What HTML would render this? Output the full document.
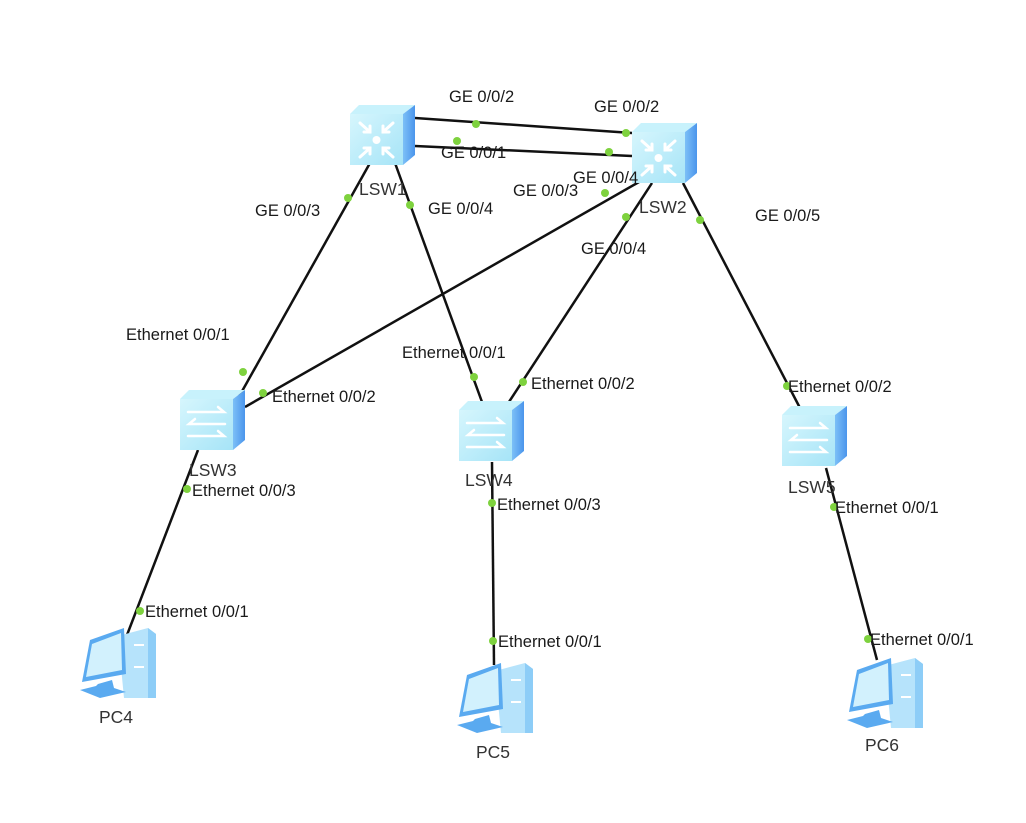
<!DOCTYPE html>
<html><head><meta charset="utf-8"><style>
html,body{margin:0;padding:0;background:#fff;}
svg{display:block;}
text{font-family:"Liberation Sans",sans-serif;font-size:16.5px;fill:#1a1a1a;}
.n{font-size:17.5px;fill:#333;}
</style></head><body>
<svg width="1026" height="823" viewBox="0 0 1026 823" xmlns="http://www.w3.org/2000/svg">
<defs>
<linearGradient id="fg" x1="0" y1="0" x2="1" y2="1"><stop offset="0" stop-color="#d6f6fd"/><stop offset="1" stop-color="#a6e4f7"/></linearGradient>
<linearGradient id="sg" x1="0" y1="0" x2="1" y2="0"><stop offset="0" stop-color="#7cc0f7"/><stop offset="1" stop-color="#4b95ec"/></linearGradient>
<g id="sw">
<polygon points="0,9 9,0 65,0 53,9" fill="#c8f2fc"/>
<polygon points="53,9 65,0 65,50 53,60" fill="url(#sg)"/>
<rect x="0" y="9" width="53" height="51" fill="url(#fg)"/>
</g>
<g id="l3">
<use href="#sw"/>
<g stroke="#fff" stroke-width="3" fill="none" stroke-linecap="round">
<path d="M10,18 L20,27 M20,21 L20,27 L14,27"/>
<path d="M43,18 L33,27 M33,21 L33,27 L39,27"/>
<path d="M10,52 L20,43 M20,49 L20,43 L14,43"/>
<path d="M43,52 L33,43 M33,49 L33,43 L39,43"/>
</g>
<circle cx="26.5" cy="35" r="4" fill="#fff"/>
</g>
<g id="l2">
<use href="#sw"/>
<g stroke="#fff" stroke-width="2.5" fill="none" stroke-linecap="round">
<path d="M8,22 L44,22 L38,17"/>
<path d="M45,34 L9,34 L15,29"/>
<path d="M8,46 L44,46 L38,41"/>
</g>
</g>
<g id="pc">
<polygon points="40,10 70,2 78,8 78,72 46,72" fill="#b6e3fb"/>
<polygon points="70,2 78,8 78,72 70,72" fill="#8dcdf7"/>
<polygon points="12,14 46,2 48,48 4,56" fill="#5aaaf0"/>
<polygon points="14,18 43,7 44,44 8,51" fill="#d2f1fd"/>
<polygon points="20,58 34,54 36,62 48,66 22,72 2,64 18,60" fill="#5aaaf0"/>
<rect x="56" y="18" width="10" height="2" fill="#fff"/>
<rect x="56" y="40" width="10" height="2" fill="#fff"/>
</g>
</defs>

<g stroke="#111" stroke-width="2.5" fill="none">
<line x1="415" y1="118" x2="632" y2="133"/>
<line x1="415" y1="146" x2="632" y2="156"/>
<line x1="370" y1="163" x2="236" y2="402"/>
<line x1="395" y1="163" x2="482" y2="402"/>
<line x1="646" y1="178" x2="245" y2="407"/>
<line x1="652" y1="183" x2="507" y2="405"/>
<line x1="683" y1="183" x2="800" y2="408"/>
<line x1="198" y1="450" x2="127" y2="635"/>
<line x1="492" y1="462" x2="494" y2="665"/>
<line x1="826" y1="468" x2="877" y2="660"/>
</g>

<use href="#l3" x="350" y="105"/>
<use href="#l3" x="632" y="123"/>
<use href="#l2" x="180" y="390"/>
<use href="#l2" x="459" y="401"/>
<use href="#l2" x="782" y="406"/>
<use href="#pc" x="78" y="626"/>
<use href="#pc" x="455" y="661"/>
<use href="#pc" x="845" y="656"/>

<g fill="#7ed23e">
<circle cx="476" cy="124" r="4"/><circle cx="626" cy="133" r="4"/>
<circle cx="457" cy="141" r="4"/><circle cx="609" cy="152" r="4"/>
<circle cx="348" cy="198" r="4"/><circle cx="243" cy="372" r="4"/>
<circle cx="410" cy="205" r="4"/><circle cx="474" cy="377" r="4"/>
<circle cx="605" cy="193" r="4"/><circle cx="263" cy="393" r="4"/>
<circle cx="626" cy="217" r="4"/><circle cx="523" cy="382" r="4"/>
<circle cx="700" cy="220" r="4"/><circle cx="787" cy="386" r="4"/>
<circle cx="187" cy="489" r="4"/><circle cx="140" cy="611" r="4"/>
<circle cx="492" cy="503" r="4"/><circle cx="493" cy="641" r="4"/>
<circle cx="834" cy="507" r="4"/><circle cx="868" cy="639" r="4"/>
</g>

<text x="449" y="102">GE 0/0/2</text>
<text x="594" y="112">GE 0/0/2</text>
<text x="441" y="158">GE 0/0/1</text>
<text x="513" y="196">GE 0/0/3</text>
<text x="573" y="183">GE 0/0/4</text>
<text x="255" y="216">GE 0/0/3</text>
<text x="428" y="214">GE 0/0/4</text>
<text x="581" y="254">GE 0/0/4</text>
<text x="755" y="221">GE 0/0/5</text>
<text x="126" y="340">Ethernet 0/0/1</text>
<text x="402" y="358">Ethernet 0/0/1</text>
<text x="272" y="402">Ethernet 0/0/2</text>
<text x="531" y="389">Ethernet 0/0/2</text>
<text x="788" y="392">Ethernet 0/0/2</text>
<text x="192" y="496">Ethernet 0/0/3</text>
<text x="497" y="510">Ethernet 0/0/3</text>
<text x="835" y="513">Ethernet 0/0/1</text>
<text x="145" y="617">Ethernet 0/0/1</text>
<text x="498" y="647">Ethernet 0/0/1</text>
<text x="870" y="645">Ethernet 0/0/1</text>

<text class="n" x="359" y="195">LSW1</text>
<text class="n" x="639" y="213">LSW2</text>
<text class="n" x="189" y="476">LSW3</text>
<text class="n" x="465" y="486">LSW4</text>
<text class="n" x="788" y="493">LSW5</text>
<text class="n" x="99" y="723">PC4</text>
<text class="n" x="476" y="758">PC5</text>
<text class="n" x="865" y="751">PC6</text>
</svg>
</body></html>
